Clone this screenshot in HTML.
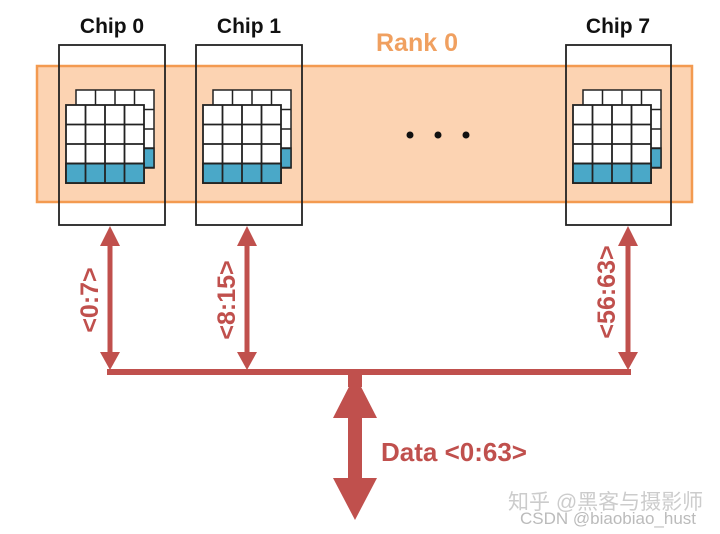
<!DOCTYPE html>
<html><head><meta charset="utf-8"><style>
html,body{margin:0;padding:0;background:#fff;}
svg{display:block;}
text{font-family:"Liberation Sans","Noto Sans CJK SC",sans-serif;font-weight:bold;}
text.wm{font-weight:normal;}
</style></head><body>
<svg width="720" height="534" viewBox="0 0 720 534" xmlns="http://www.w3.org/2000/svg">
<defs>
<g id="grid">
  <rect x="10" y="-15" width="78" height="78" fill="#fff" stroke="#222" stroke-width="1.5"/>
  <rect x="10" y="43" width="78" height="19.5" fill="#4aa8c8" stroke="#222" stroke-width="1.5"/>
  <path d="M29.5 -15V63M49 -15V63M68.5 -15V63M10 4.5H88M10 24H88M10 43.5H88" stroke="#222" stroke-width="1.5"/>
  <rect x="0" y="0" width="78" height="78" fill="#fff" stroke="#222" stroke-width="1.8"/>
  <rect x="0" y="58.5" width="78" height="19.5" fill="#4aa8c8" stroke="#222" stroke-width="1.8"/>
  <path d="M19.5 0V78M39 0V78M58.5 0V78M0 19.5H78M0 39H78M0 58.5H78" stroke="#222" stroke-width="1.8"/>
</g>
</defs>
<rect x="37" y="66" width="655" height="136" fill="#fcd3b2" stroke="#f39a50" stroke-width="2.5"/>
<text x="417" y="51" font-size="25" fill="#f0a060" text-anchor="middle">Rank 0</text>
<text x="112" y="33" font-size="21" fill="#111" text-anchor="middle">Chip 0</text>
<text x="249" y="33" font-size="21" fill="#111" text-anchor="middle">Chip 1</text>
<text x="618" y="33" font-size="21" fill="#111" text-anchor="middle">Chip 7</text>
<rect x="59" y="45" width="106" height="180" fill="none" stroke="#222" stroke-width="1.8"/>
<rect x="196" y="45" width="106" height="180" fill="none" stroke="#222" stroke-width="1.8"/>
<rect x="566" y="45" width="105" height="180" fill="none" stroke="#222" stroke-width="1.8"/>
<use href="#grid" x="66" y="105"/>
<use href="#grid" x="203" y="105"/>
<use href="#grid" x="573" y="105"/>
<circle cx="410" cy="135" r="3.5" fill="#111"/>
<circle cx="438" cy="135" r="3.5" fill="#111"/>
<circle cx="466" cy="135" r="3.5" fill="#111"/>
<g fill="#c0504d">
  <rect x="107" y="369" width="524" height="6"/>
  <g id="sa">
    <rect x="107.5" y="240" width="5" height="120"/>
    <polygon points="110,226 100,246 120,246"/>
    <polygon points="110,370 100,352 120,352"/>
  </g>
  <use href="#sa" x="137"/>
  <use href="#sa" x="518"/>
  <rect x="348" y="375" width="14" height="12"/>
  <polygon points="355,375 333,418 377,418"/>
  <rect x="348" y="415" width="14" height="66"/>
  <polygon points="355,520 333,478 377,478"/>
</g>
<text x="381" y="461" font-size="26" fill="#c0504d">Data &lt;0:63&gt;</text>
<text transform="translate(98,300) rotate(-90)" font-size="25" fill="#c0504d" text-anchor="middle">&lt;0:7&gt;</text>
<text transform="translate(235,300) rotate(-90)" font-size="25" fill="#c0504d" text-anchor="middle">&lt;8:15&gt;</text>
<text transform="translate(615,292) rotate(-90)" font-size="25" fill="#c0504d" text-anchor="middle">&lt;56:63&gt;</text>
<text class="wm" x="508" y="509" font-size="21" fill="#ccc">知乎 @黑客与摄影师</text>
<text class="wm" x="520" y="524" font-size="17" fill="#bbb">CSDN @biaobiao_hust</text>
</svg>
</body></html>
